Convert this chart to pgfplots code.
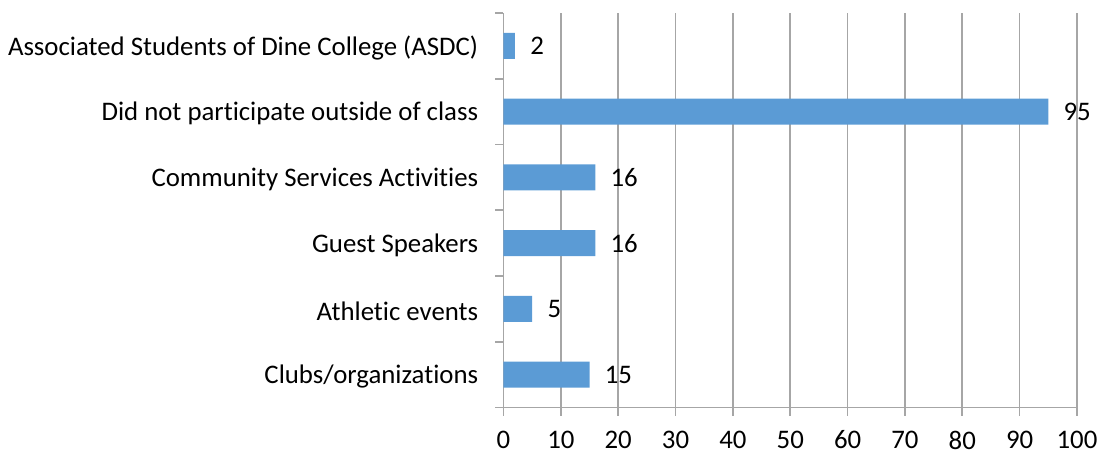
\documentclass[border=0pt]{standalone}
\usepackage{pgfplots}
\pgfplotsset{compat=1.18}
\usepackage{fontspec}
\setmainfont{Carlito}[Ligatures=NoCommon]
\definecolor{barblue}{HTML}{5B9BD5}
\definecolor{gridgray}{HTML}{A6A6A6}
\begin{document}
\fontsize{13.4pt}{16pt}\selectfont
\begin{tikzpicture}
\begin{axis}[
  at={(0,0)}, anchor=south west,
  scale only axis,
  width=286.75pt, height=197.25pt,
  xbar, bar width=13pt,
  xmin=0, xmax=100,
  ymin=-0.5, ymax=5.5,
  xtick={0,10,...,100},
  ytick={0,1,2,3,4,5},
  yticklabels={Clubs/organizations, Athletic events, Guest Speakers, Community Services Activities, Did not participate outside of class, Associated Students of Dine College (ASDC)},
  minor ytick={-0.5,0.5,...,5.5},
  axis x line*=bottom, axis y line*=left,
  axis line style={draw=gridgray, line width=0.8pt, -},
  xmajorgrids, grid style={draw=gridgray, line width=0.8pt},
  tick align=outside,
  major tick length=4pt, minor tick length=4pt,
  major x tick style={draw=gridgray, line width=0.8pt},
  major y tick style={draw=none},
  minor y tick style={draw=gridgray, line width=0.8pt},
  tick label style={font=\fontsize{13.4pt}{16pt}\selectfont, text=black},
  xticklabel style={yshift=-3pt},
  yticklabel style={xshift=-4pt, yshift=-1pt},
  /pgf/number format/assume math mode=true,
  nodes near coords,
  every node near coord/.append style={anchor=west, xshift=3pt, font=\fontsize{13.4pt}{16pt}\selectfont, text=black},
]
\addplot[fill=barblue, draw=none] coordinates {(15,0) (5,1) (16,2) (16,3) (95,4) (2,5)};
\end{axis}
\pgfresetboundingbox
\path[use as bounding box] (-251.75pt,-23.75pt) rectangle (299.75pt,203.75pt);
\end{tikzpicture}
\end{document}
